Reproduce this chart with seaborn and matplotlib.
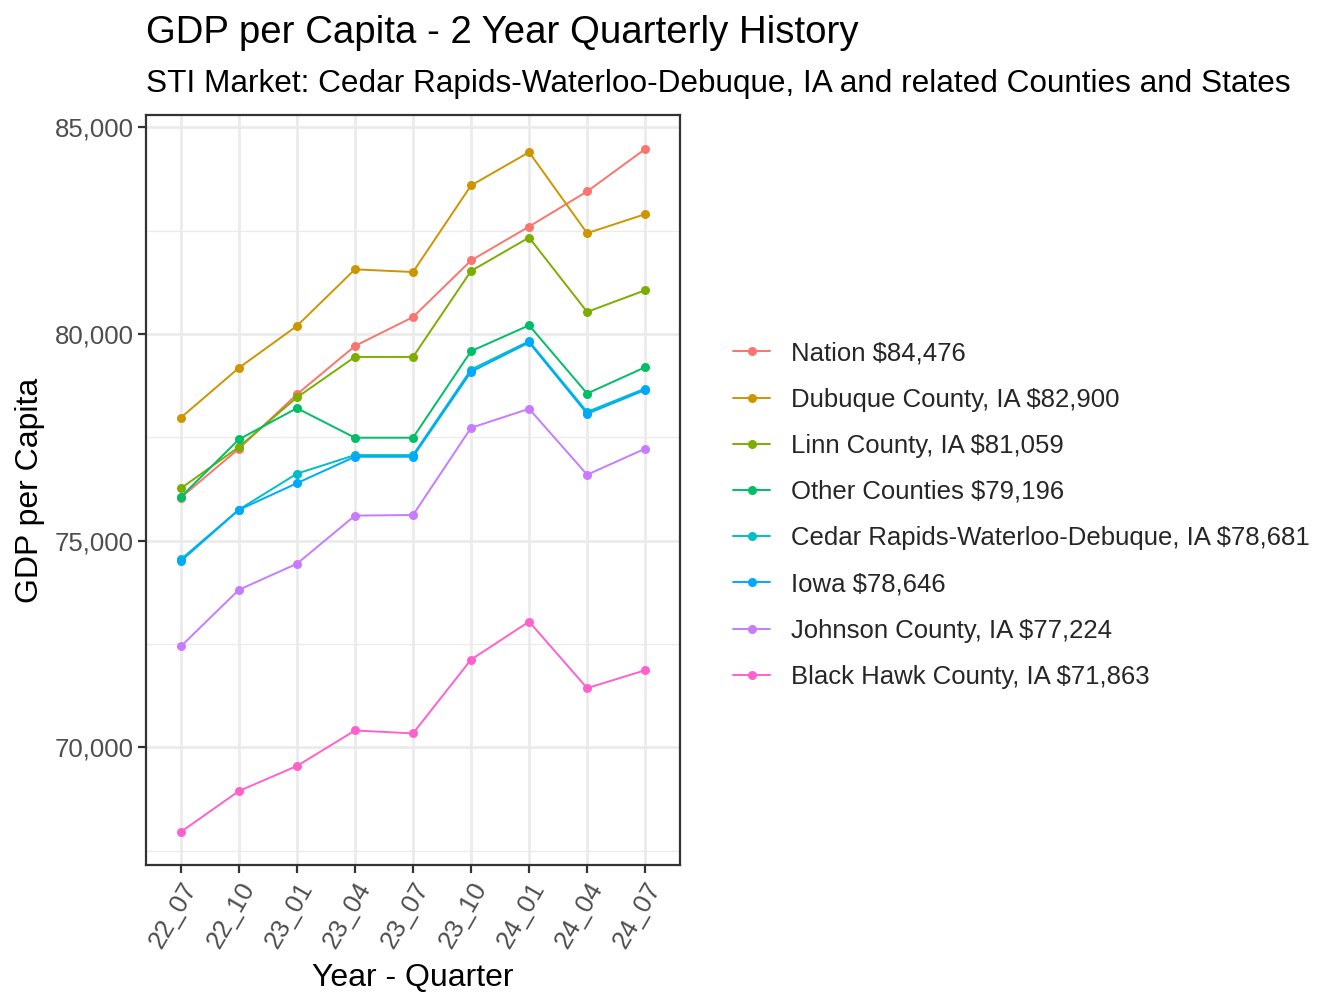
import matplotlib
matplotlib.use("Agg")
import matplotlib.pyplot as plt
import matplotlib.ticker as mticker
import pandas as pd
import seaborn as sns

# quarters on the x axis
quarters = ["22_07", "22_10", "23_01", "23_04", "23_07", "23_10", "24_01", "24_04", "24_07"]

# series names (legend shows latest value)
areas = [
    "Nation $84,476",
    "Dubuque County, IA $82,900",
    "Linn County, IA $81,059",
    "Other Counties $79,196",
    "Cedar Rapids-Waterloo-Debuque, IA $78,681",
    "Iowa $78,646",
    "Johnson County, IA $77,224",
    "Black Hawk County, IA $71,863",
]

nation = [76040, 77225, 78540, 79710, 80410, 81780, 82600, 83450, 84476]
dubuque = [77975, 79180, 80195, 81565, 81500, 83595, 84400, 82440, 82900]
linn = [76265, 77265, 78465, 79445, 79445, 81525, 82335, 80535, 81059]
other = [76055, 77450, 78205, 77490, 77490, 79585, 80210, 78560, 79196]
cedar_rapids = [74545, 75750, 76620, 77070, 77070, 79140, 79825, 78115, 78681]
iowa = [74505, 75745, 76390, 77030, 77030, 79085, 79795, 78070, 78646]
johnson = [72440, 73810, 74440, 75605, 75620, 77730, 78190, 76595, 77224]
black_hawk = [67950, 68940, 69545, 70405, 70335, 72120, 73040, 71430, 71863]

series = [nation, dubuque, linn, other, cedar_rapids, iowa, johnson, black_hawk]

# ggplot default hue palette for 8 groups
colors = ["#F8766D", "#CD9600", "#7CAE00", "#00BE67", "#00BFC4", "#00A9FF", "#C77CFF", "#FF61CC"]

rows = []
for name, vals in zip(areas, series):
    for q, v in zip(quarters, vals):
        rows.append({"Quarter": q, "GDP": v, "Area": name})
df = pd.DataFrame(rows)

sns.set_theme(style="white")
plt.rcParams["font.family"] = ["Liberation Sans", "DejaVu Sans"]

fig = plt.figure(figsize=(13.44, 10.08), dpi=100)
# panel: x 146..680 px, y 115..865 px
ax = fig.add_axes([146 / 1344, 1 - 865 / 1008, 534 / 1344, 750 / 1008])

sns.lineplot(
    data=df, x="Quarter", y="GDP", hue="Area",
    hue_order=areas, palette=colors,
    marker="o", markersize=6.5, markeredgewidth=0,
    linewidth=1.4, sort=False, ax=ax,
)

ax.set_xlim(-0.6, 8.6)
ax.set_ylim(67150, 85300)

# theme_bw look
ax.yaxis.set_major_locator(mticker.MultipleLocator(5000))
ax.yaxis.set_minor_locator(mticker.MultipleLocator(2500))
ax.yaxis.set_major_formatter(mticker.FuncFormatter(lambda v, p: f"{v:,.0f}"))
ax.grid(which="major", color="#EBEBEB", linewidth=2.0)
ax.grid(which="minor", axis="y", color="#EBEBEB", linewidth=1.0)
ax.set_axisbelow(True)
for s in ax.spines.values():
    s.set_color("#333333")
    s.set_linewidth(1.6)
ax.tick_params(axis="both", which="major", direction="out", length=5.5, width=1.6,
               color="#333333", labelcolor="#4D4D4D", labelsize=18.5, left=True, bottom=True)
ax.tick_params(axis="y", which="minor", length=0)
for lab in ax.get_xticklabels():
    lab.set_rotation(60)
    lab.set_ha("right")
    lab.set_va("top")
    lab.set_rotation_mode("anchor")

ax.set_xlabel("Year - Quarter", fontsize=23, color="black", labelpad=8)
ax.set_ylabel("GDP per Capita", fontsize=23, color="black", labelpad=7)

fig.text(146 / 1344, 0.957, "GDP per Capita - 2 Year Quarterly History", fontsize=27.6,
         ha="left", va="baseline", color="black")
fig.text(146 / 1344, 0.909, "STI Market: Cedar Rapids-Waterloo-Debuque, IA and related Counties and States",
         fontsize=22.7, ha="left", va="baseline", color="black")

handles, labels = ax.get_legend_handles_labels()
ax.get_legend().remove()
fig.legend(handles, labels, loc="center left", bbox_to_anchor=(733 / 1344, 0.489),
           frameon=False, fontsize=18.5, handlelength=1.45, handletextpad=0.8,
           labelspacing=0.865, borderpad=0, borderaxespad=0)

fig.savefig("out.png", dpi=100)
